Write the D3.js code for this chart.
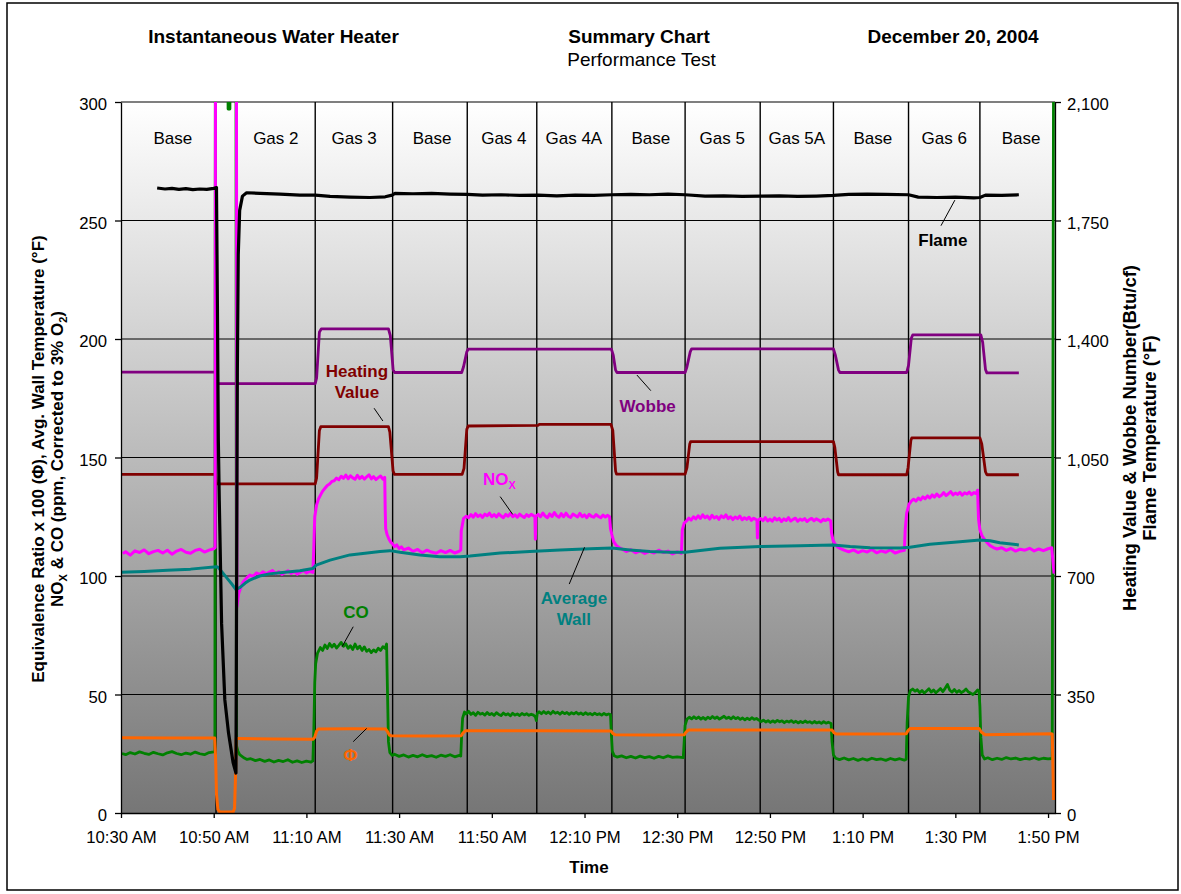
<!DOCTYPE html>
<html lang="en">
<head>
<meta charset="UTF-8">
<title>Summary Chart - Instantaneous Water Heater</title>
<style>
    body { margin: 0; background: #fff; }
    svg text { font-family: "Liberation Sans", Arial, sans-serif; fill: #000; }
</style>
</head>
<body>
<svg id="chart" width="1181" height="894"></svg>

<script src="https://cdn.jsdelivr.net/npm/d3@7"></script>
<script>
    // ---- data (time = minutes after testStart) ----
    let testStart = "10:30"
    let axisEnd = "13:51:30"
    let timeTicks = ["10:30", "10:50", "11:10", "11:30", "11:50", "12:10", "12:30", "12:50", "13:10", "13:30", "13:50"]
    let leftTicks = [0, 50, 100, 150, 200, 250, 300]
    let rightTicks = [0, 350, 700, 1050, 1400, 1750, 2100]

    let phaseNames = ["Base", "Gas 2", "Gas 3", "Base", "Gas 4", "Gas 4A", "Base", "Gas 5", "Gas 5A", "Base", "Gas 6", "Base"]
    let phaseMid = [11.2, 33.4, 50.3, 67.1, 82.6, 97.7, 114.3, 129.7, 145.8, 162.2, 177.6, 194.2]
    let phaseBreaks = [20.5, 41.9, 58.6, 74.7, 89.7, 105.9, 121.7, 137.9, 153.7, 169.9, 185.3]

    // right axis (Btu/cf)
    let wobbe = [[0, 1302], [20.4, 1302], [20.6, 1268], [41.9, 1268], [42.2, 1285], [42.8, 1420], [43.2, 1430], [57.7, 1430], [58.1, 1410], [58.7, 1310], [59.0, 1301], [73.5, 1301], [73.9, 1318], [74.6, 1362], [74.9, 1370], [105.8, 1370], [106.2, 1352], [106.7, 1308], [107.0, 1301], [121.7, 1301], [122.1, 1318], [122.8, 1362], [123.1, 1371], [153.7, 1371], [154.1, 1353], [154.8, 1308], [155.1, 1301], [169.5, 1301], [169.9, 1322], [170.5, 1402], [170.8, 1412], [185.5, 1412], [185.9, 1390], [186.5, 1310], [186.8, 1300], [193.7, 1300]]

    let heatingValue = [[0, 1000], [20.4, 1000], [20.6, 972], [41.9, 972], [42.2, 990], [42.8, 1130], [43.1, 1141], [57.7, 1141], [58.0, 1125], [58.7, 1010], [59.0, 1000], [73.6, 1000], [74.0, 1018], [74.6, 1133], [74.9, 1143], [90, 1145], [90.2, 1148], [105.7, 1148], [106.1, 1130], [106.7, 1010], [106.9, 1001], [121.7, 1001], [122.1, 1020], [122.7, 1090], [122.9, 1097], [153.7, 1097], [154.0, 1080], [154.6, 1008], [154.8, 999], [169.5, 999], [169.8, 1020], [170.4, 1100], [170.6, 1108], [185.3, 1108], [185.7, 1090], [186.5, 1008], [186.8, 999], [193.7, 999]]

    // right axis (deg F)
    let flame = [[7.8, 1846], [9.5, 1843], [11, 1845], [12.5, 1842], [14, 1844], [15.5, 1841], [17, 1843], [18.5, 1842], [20, 1845], [20.6, 1847], [20.8, 1500], [21.0, 1100], [21.2, 924], [21.7, 560], [22.4, 334], [23.2, 236], [24.2, 148], [24.8, 118], [24.95, 700], [25.1, 1300], [25.3, 1650], [25.6, 1780], [26.2, 1822], [27.1, 1832], [30, 1830], [34.3, 1828], [38.6, 1825], [41.9, 1825], [45.1, 1821], [49.4, 1819], [53.7, 1818], [57, 1820], [58.5, 1825], [59.1, 1830], [63, 1829], [67, 1830], [71, 1828], [74.7, 1827], [78, 1825], [82, 1826], [86, 1824], [90, 1825], [94, 1823], [98, 1825], [102, 1824], [105.9, 1826], [110, 1827], [114, 1826], [118, 1828], [121.7, 1826], [126, 1822], [130, 1823], [134, 1821], [138, 1822], [142, 1823], [146, 1821], [150, 1822], [153.7, 1824], [157, 1827], [161, 1828], [165, 1827], [169.9, 1826], [172, 1819], [176, 1818], [180, 1819], [184, 1817], [185.3, 1818], [186.5, 1825], [190, 1824], [193.7, 1826]]

    // left axis (ppm)
    let nox = [[0.4, 109.5], [1, 110.2], [2, 108.8], [3, 110.6], [4, 109.9], [5, 111.0], [6, 109.4], [7, 110.3], [8, 110.8], [9, 109.7], [10, 110.9], [11, 109.2], [12, 110.5], [13, 111.2], [14, 110.0], [15, 109.6], [16, 110.8], [17, 111.3], [18, 110.1], [19, 110.9], [20, 111.5], [20.3, 112], [20.4, 330],
        [24.9, 330], [25.0, 87], [25.4, 92.7], [25.9, 95.5], [26.4, 97.6], [27.1, 99.2], [27.8, 100.4], [28.5, 99.8], [29.2, 101.3], [30, 100.6], [30.6, 101.8], [31.3, 100.9], [32, 101.6], [32.7, 102.3], [33.4, 101.0], [34, 101.8], [34.7, 100.7], [35.4, 101.5], [36, 102.2], [36.7, 101.1], [37.4, 101.9], [38, 100.8], [38.7, 101.6], [39.4, 102.4], [40, 101.3], [40.7, 102.0], [41.4, 101.5],
        [41.6, 112], [41.8, 125], [42.2, 130], [42.6, 132.5], [43, 134], [43.5, 135.8], [44, 137], [44.5, 138.2], [45, 138.8], [45.5, 139.9], [46, 140.2], [46.5, 141.3], [47, 140.6], [47.5, 142.1], [48, 141.2], [48.5, 142.6], [49, 141.0], [49.5, 142.3], [50, 141.4], [50.5, 140.8], [51, 142.5], [51.5, 141.1], [52, 142.0], [52.5, 140.9], [53, 141.8], [53.5, 142.7], [54, 141.0], [54.5, 141.9], [55, 140.7], [55.5, 141.5], [56, 142.2], [56.5, 140.9], [56.9, 141.6],
        [57.0, 128], [57.1, 120], [57.4, 117.5], [57.8, 115.6], [58.2, 114.3], [58.6, 113.5], [59, 112.4], [59.5, 113.1], [60, 111.6], [60.5, 112.3], [61, 111.0], [62, 111.8], [63, 110.4], [64, 111.2], [65, 109.8], [66, 110.9], [67, 110.1], [68, 109.6], [69, 110.7], [70, 109.9], [71, 110.8], [72, 109.7], [73, 110.5], [73.3, 111],
        [73.4, 119], [73.9, 124.3], [74.5, 125.2], [75, 124.6], [75.5, 125.9], [76, 124.8], [76.5, 126.3], [77, 125.1], [77.5, 125.8], [78, 124.7], [78.5, 126.1], [79, 125.4], [79.5, 126.5], [80, 125.0], [80.5, 125.9], [81, 124.9], [81.5, 126.2], [82, 125.3], [82.5, 124.6], [83, 126.0], [83.5, 125.2], [84, 126.4], [84.5, 125.0], [85, 125.8], [85.5, 124.8], [86, 126.1], [86.5, 125.3], [87, 124.7], [87.5, 125.9], [88, 125.1], [88.5, 126.0], [89, 125.4], [89.3, 125], [89.4, 115.5], [89.5, 125.2],
        [90, 126.0], [90.5, 125.0], [91, 126.6], [91.5, 125.3], [92, 124.6], [92.5, 126.2], [93, 125.1], [93.5, 126.8], [94, 125.4], [94.5, 124.8], [95, 126.3], [95.5, 125.0], [96, 126.5], [96.5, 125.2], [97, 124.7], [97.5, 126.1], [98, 125.5], [98.5, 124.9], [99, 126.4], [99.5, 125.0], [100, 125.8], [100.5, 124.6], [101, 126.0], [101.5, 125.2], [102, 124.8], [102.5, 125.9], [103, 125.1], [103.5, 124.6], [104, 125.7], [104.5, 124.9], [105, 125.6], [105.4, 125.0],
        [105.6, 120], [105.9, 117.5], [106.3, 114.5], [106.8, 113], [107.3, 112.2], [108, 111.5], [109, 110.3], [110, 111.1], [111, 109.8], [112, 110.6], [113, 109.5], [114, 110.4], [115, 109.7], [116, 110.9], [117, 109.9], [118, 110.5], [119, 109.3], [120, 110.2], [120.9, 109.6],
        [121.1, 119.5], [121.5, 122.3], [122, 123.2], [122.5, 124.4], [123, 123.6], [123.5, 125.0], [124, 124.1], [124.5, 125.4], [125, 124.3], [125.5, 125.8], [126, 124.6], [126.5, 125.3], [127, 124.0], [127.5, 125.6], [128, 124.5], [128.5, 125.1], [129, 123.9], [129.5, 125.4], [130, 124.6], [130.5, 125.8], [131, 124.2], [131.5, 125.0], [132, 123.8], [132.5, 124.9], [133, 124.2], [133.5, 125.3], [134, 123.7], [134.5, 124.6], [135, 123.9], [135.5, 124.8], [136, 123.5], [136.5, 124.4], [137, 123.8], [137.2, 123.5], [137.3, 116], [137.4, 123.6],
        [138, 124.2], [138.5, 123.4], [139, 124.6], [139.5, 123.2], [140, 124.0], [140.5, 123.1], [141, 124.5], [141.5, 123.6], [142, 124.3], [142.5, 123.0], [143, 124.1], [143.5, 123.4], [144, 124.6], [144.5, 123.2], [145, 123.9], [145.5, 124.4], [146, 123.1], [146.5, 124.0], [147, 123.5], [147.5, 124.2], [148, 123.0], [148.5, 123.8], [149, 124.3], [149.5, 123.3], [150, 124.1], [150.5, 123.6], [151, 122.9], [151.5, 123.9], [152, 123.4], [152.5, 124.0], [153.1, 123.3],
        [153.3, 118], [153.6, 115.2], [154, 113.6], [154.5, 112.4], [155, 111.8], [156, 110.9], [157, 110.2], [158, 111.0], [159, 109.9], [160, 110.7], [161, 110.1], [162, 111.2], [163, 109.8], [164, 110.6], [165, 110.0], [166, 111.1], [167, 109.7], [168, 110.4], [169, 110.8],
        [169.2, 120], [169.5, 126.5], [170, 130.2], [170.5, 131.6], [171, 132.4], [171.5, 131.6], [172, 132.9], [172.5, 132.1], [173, 133.4], [173.5, 132.6], [174, 133.8], [174.5, 132.9], [175, 134.2], [175.5, 133.3], [176, 134.6], [176.5, 133.5], [177, 134.1], [177.5, 135.2], [178, 133.9], [178.5, 134.7], [179, 135.6], [179.5, 134.2], [180, 135.0], [180.5, 134.4], [181, 135.3], [181.5, 134.1], [182, 135.1], [182.5, 134.6], [183, 135.4], [183.5, 134.3], [184, 135.2], [184.5, 134.8], [184.8, 136.2],
        [185, 124], [185.3, 119.5], [185.7, 117.2], [186.2, 115.6], [186.8, 114.2], [187.5, 112.8], [188.2, 112.0], [189, 111.4], [190, 111.9], [191, 110.8], [192, 111.6], [193, 110.5], [194, 111.3], [195, 110.9], [196, 111.7], [197, 110.6], [198, 111.4], [199, 110.7], [200, 111.5], [200.8, 111.9], [201.3, 101]]

    let co = [[0.2, 25.1], [1, 24.6], [2, 25.5], [3, 24.9], [4, 25.8], [5, 25.2], [6, 24.7], [7, 25.6], [8, 25.0], [9, 24.5], [10, 25.4], [11, 25.9], [12, 25.1], [13, 24.6], [14, 25.3], [15, 24.8], [16, 25.7], [17, 25.0], [18, 24.6], [19, 25.5], [20, 25.8], [20.25, 26], [20.35, 330],
        [23.0, 330], [23.1, 297], [23.2, 330], [23.4, 330], [23.5, 297], [23.6, 330], [24.8, 330], [24.9, 28.5], [25.2, 26.2], [25.6, 24.6], [26.1, 23.9], [26.6, 23.2], [27.2, 22.6], [28, 22.9], [29, 22.1], [30, 22.6], [31, 21.8], [32, 22.4], [33, 21.5], [34, 22.2], [35, 21.7], [36, 22.5], [37, 21.4], [38, 22.0], [39, 21.3], [40, 21.9], [41, 21.5], [41.4, 22.0],
        [41.6, 35], [41.8, 55], [42.0, 63], [42.4, 67.5], [43, 69.8], [43.5, 68.6], [44, 70.9], [44.5, 69.4], [45, 71.5], [45.5, 70.0], [46, 71.2], [46.5, 69.6], [47, 70.7], [47.5, 72.0], [48, 70.3], [48.5, 71.4], [49, 69.5], [49.5, 70.6], [50, 69.0], [50.5, 71.3], [51, 69.3], [51.5, 70.4], [52, 68.6], [52.5, 70.1], [53, 68.2], [53.5, 69.0], [54, 67.7], [54.5, 68.8], [55, 68.0], [55.5, 69.5], [56, 68.6], [56.5, 70.2], [57, 69.4], [57.3, 71.3],
        [57.5, 50], [57.7, 30], [58, 25.5], [58.5, 24.3], [59, 24.8], [60, 23.9], [61, 24.5], [62, 23.6], [63, 24.3], [64, 23.7], [65, 24.6], [66, 23.8], [67, 24.2], [68, 23.5], [69, 24.4], [70, 23.9], [71, 24.6], [72, 23.7], [73, 24.3], [73.3, 24.0],
        [73.5, 33], [73.7, 40], [74.1, 42.6], [74.5, 41.8], [75, 42.9], [75.5, 41.6], [76, 42.3], [76.5, 41.2], [77, 42.5], [77.5, 41.7], [78, 42.1], [78.5, 41.3], [79, 42.4], [79.5, 41.5], [80, 42.0], [80.5, 41.2], [81, 42.3], [81.5, 41.6], [82, 41.1], [82.5, 42.2], [83, 41.4], [83.5, 41.9], [84, 41.0], [84.5, 42.1], [85, 41.3], [85.5, 41.8], [86, 41.1], [86.5, 42.0], [87, 41.4], [87.5, 41.9], [88, 41.2], [88.5, 41.7], [89, 41.3], [89.4, 40.5], [89.6, 39], [89.8, 42],
        [90.2, 42.7], [90.7, 41.9], [91.2, 42.8], [91.7, 42.0], [92.2, 42.6], [92.7, 41.8], [93.2, 42.9], [93.7, 42.1], [94.2, 42.5], [94.7, 41.7], [95.2, 42.6], [95.7, 41.9], [96.2, 42.4], [96.7, 41.6], [97.2, 42.3], [97.7, 41.8], [98.2, 42.5], [98.7, 41.7], [99.2, 42.2], [99.7, 41.5], [100.2, 42.3], [100.7, 41.6], [101.2, 42.0], [101.7, 41.4], [102.2, 42.1], [102.7, 41.5], [103.2, 41.9], [103.7, 41.3], [104.2, 42.0], [104.7, 41.4], [105.2, 41.8], [105.6, 41.5],
        [105.8, 33], [106.0, 26], [106.4, 24.2], [107, 23.6], [108, 24.1], [109, 23.3], [110, 23.9], [111, 23.2], [112, 24.0], [113, 23.4], [114, 23.8], [115, 23.1], [116, 23.9], [117, 23.3], [118, 24.1], [119, 23.5], [120, 23.7], [121.3, 23.4],
        [121.5, 30], [121.7, 37], [122.1, 39.6], [122.6, 40.4], [123.1, 39.7], [123.6, 40.6], [124.1, 39.8], [124.6, 40.5], [125.1, 39.6], [125.6, 40.3], [126.1, 39.5], [126.6, 40.4], [127.1, 39.8], [127.6, 40.7], [128.1, 39.9], [128.6, 40.5], [129.1, 39.6], [129.6, 40.2], [130.1, 40.8], [130.6, 39.9], [131.1, 40.4], [131.6, 39.7], [132.1, 40.6], [132.6, 39.8], [133.1, 40.3], [133.6, 39.5], [134.1, 40.1], [134.6, 39.3], [135.1, 40.0], [135.6, 39.4], [136.1, 40.2], [136.6, 39.5], [137.1, 39.9], [137.6, 39.2],
        [138.1, 38.6], [138.6, 39.2], [139.1, 38.4], [139.6, 39.0], [140.1, 38.2], [140.6, 38.9], [141.1, 38.3], [141.6, 39.1], [142.1, 38.5], [142.6, 38.9], [143.1, 38.1], [143.6, 38.8], [144.1, 38.4], [144.6, 39.0], [145.1, 38.2], [145.6, 38.7], [146.1, 38.0], [146.6, 38.6], [147.1, 38.1], [147.6, 38.8], [148.1, 38.2], [148.6, 38.5], [149.1, 37.9], [149.6, 38.6], [150.1, 38.0], [150.6, 38.4], [151.1, 37.8], [151.6, 38.5], [152.1, 37.9], [152.6, 38.3], [153.2, 37.8],
        [153.4, 30], [153.7, 24.5], [154.2, 23.1], [155, 22.5], [156, 23.2], [157, 22.4], [158, 23.0], [159, 22.2], [160, 22.9], [161, 22.3], [162, 23.1], [163, 22.5], [164, 22.8], [165, 22.2], [166, 23.0], [167, 22.4], [168, 22.9], [169, 22.3], [169.4, 22.7],
        [169.6, 38], [169.9, 49], [170.3, 51.6], [170.8, 52.3], [171.3, 51.4], [171.8, 52.0], [172.3, 50.8], [172.8, 51.7], [173.3, 50.6], [173.8, 51.5], [174.3, 52.4], [174.8, 51.0], [175.3, 51.9], [175.8, 50.7], [176.3, 51.6], [176.8, 52.5], [177.3, 51.2], [177.8, 52.6], [178.3, 54.2], [178.8, 51.8], [179.3, 51.0], [179.8, 52.1], [180.3, 50.9], [180.8, 51.7], [181.3, 50.8], [181.8, 51.4], [182.3, 52.3], [182.8, 51.1], [183.3, 50.6], [183.8, 50.0], [184.3, 50.8], [184.8, 51.9], [185.1, 51.5],
        [185.3, 45], [185.5, 32], [185.8, 24.5], [186.3, 22.8], [187, 23.3], [188, 22.5], [189, 23.1], [190, 22.6], [191, 23.4], [192, 22.8], [193, 23.2], [194, 22.5], [195, 23.0], [196, 22.7], [197, 23.3], [198, 22.6], [199, 23.1], [200, 22.8], [200.9, 23.0], [201.2, 330]]

    // left axis (equivalence ratio x 100)
    let phi = [[0.2, 31.7], [10, 31.6], [20.2, 31.6], [20.4, 24], [20.6, 8], [20.9, 1.5], [21.3, 0.4], [24.2, 0.4], [24.5, 2], [24.7, 15], [24.85, 31.4], [25.3, 31.4], [33, 31.2], [41.4, 31.1],
        [41.8, 32], [42.2, 34.6], [42.6, 35.4], [50, 35.5], [57.1, 35.4], [57.5, 34.3], [57.9, 32.9], [58.3, 32.6], [65, 32.5], [73.4, 32.6], [73.8, 33.8], [74.3, 34.7], [90, 34.7], [105.7, 34.6], [106.1, 33.6], [106.6, 33.0], [114, 32.9], [121.5, 33.0], [121.9, 34.1], [122.4, 35.0], [138, 35.0], [153.4, 35.0], [153.8, 33.9], [154.3, 33.3], [162, 33.3], [169.4, 33.4], [169.8, 34.8], [170.3, 35.7], [178, 35.7], [185.1, 35.7], [185.6, 34.2], [186.4, 33.0], [194, 33.2], [200.6, 33.4], [200.9, 33.3], [201.2, 5.5]]

    // left axis (deg F)
    let avgWall = [[0, 101.6], [5, 101.9], [10, 102.4], [15, 102.9], [20.6, 103.9], [21.0, 103.6], [22.0, 101.2], [23.0, 98.8], [24.0, 96.4], [24.8, 94.3], [25.7, 95.2], [26.8, 97], [27.8, 98.3], [29.9, 100], [32, 100.9], [34.3, 101.4], [38.6, 102.2], [41.4, 103.2], [42.1, 104.6], [45.1, 106.7], [49.4, 108.9], [55.9, 110.3], [58, 110.7], [60.2, 110.0], [64.5, 108.9], [68.8, 108.1], [73.1, 108.1], [75.3, 108.4], [81.8, 109.7], [88.2, 110.3], [94.7, 111.0], [101.2, 111.5], [105.9, 111.8], [109.8, 111.0], [114.1, 110.3], [118.4, 110.0], [121.7, 110.0], [129.2, 111.7], [137.9, 112.4], [146.5, 112.8], [153.6, 113.1], [157.3, 112.4], [161.6, 111.9], [168.1, 111.8], [170.2, 112.1], [174.5, 113.4], [181.0, 114.5], [185.3, 115.2], [187.5, 114.9], [189.6, 114.0], [193.7, 113.1]]

    // ---- scales ----
    let svg = d3.select("#chart")
    let plot = { left: 121, right: 1055, top: 102, bottom: 813 }

    let parseTime = d3.timeParse("%Y-%m-%d %H:%M:%S")
    let clock = s => parseTime("2004-12-20 " + (s.length == 5 ? s + ":00" : s))
    let t0 = clock(testStart)
    let at = m => new Date(t0.getTime() + m * 60000)

    let x = d3.scaleTime().domain([t0, clock(axisEnd)]).range([plot.left, plot.right])
    let yL = d3.scaleLinear().domain([0, 300]).range([plot.bottom, plot.top])
    let yR = d3.scaleLinear().domain([0, 2100]).range([plot.bottom, plot.top])

    // outer frame
    svg.append("rect")
        .attr("x", 7).attr("y", 3).attr("width", 1171).attr("height", 887)
        .attr("fill", "#fff").attr("stroke", "#000").attr("stroke-width", 1.5)

    // plot background
    let defs = svg.append("defs")
    let grad = defs.append("linearGradient").attr("id", "bg")
        .attr("x1", 0).attr("y1", 0).attr("x2", 0).attr("y2", 1)
    grad.append("stop").attr("offset", "0%").attr("stop-color", "#ffffff")
    grad.append("stop").attr("offset", "100%").attr("stop-color", "#767676")
    defs.append("clipPath").attr("id", "clip").append("rect")
        .attr("x", plot.left).attr("y", plot.top)
        .attr("width", plot.right - plot.left).attr("height", plot.bottom - plot.top)

    svg.append("rect")
        .attr("x", plot.left).attr("y", plot.top)
        .attr("width", plot.right - plot.left).attr("height", plot.bottom - plot.top)
        .attr("fill", "url(#bg)")

    // gridlines
    svg.append("g").selectAll("line").data(leftTicks.filter(d => d > 0)).join("line")
        .attr("x1", plot.left).attr("x2", plot.right)
        .attr("y1", d => yL(d)).attr("y2", d => yL(d))
        .attr("stroke", "#000").attr("stroke-width", 1.2)

    svg.append("g").selectAll("line").data(phaseBreaks).join("line")
        .attr("x1", d => x(at(d))).attr("x2", d => x(at(d)))
        .attr("y1", plot.top).attr("y2", plot.bottom)
        .attr("stroke", "#000").attr("stroke-width", 1.4)

    svg.append("g").selectAll("text").data(phaseNames).join("text")
        .attr("x", (d, i) => x(at(phaseMid[i])))
        .attr("y", yL(282.3))
        .attr("text-anchor", "middle")
        .style("font-size", "17px")
        .text(d => d)

    // series
    let series = [
        { data: heatingValue, y: yR, color: "#800000", w: 2.8 },
        { data: wobbe, y: yR, color: "#800080", w: 2.8 },
        { data: co, y: yL, color: "#008000", w: 2.8 },
        { data: nox, y: yL, color: "#ff00ff", w: 3 },
        { data: avgWall, y: yL, color: "#008080", w: 3 },
        { data: phi, y: yL, color: "#ff6600", w: 3 },
        { data: flame, y: yR, color: "#000000", w: 3.2 }
    ]

    let lines = svg.append("g").attr("clip-path", "url(#clip)")
    series.forEach(s => {
        let line = d3.line().x(d => x(at(d[0]))).y(d => s.y(d[1]))
        lines.append("path")
            .attr("d", line(s.data))
            .attr("fill", "none")
            .attr("stroke", s.color)
            .attr("stroke-width", s.w)
            .attr("stroke-linejoin", "round")
    })

    // axes
    let tickFont = "16.7px"
    let xAxis = d3.axisBottom(x)
        .tickValues(timeTicks.map(clock))
        .tickFormat(d3.timeFormat("%-I:%M %p"))
        .tickSize(5).tickSizeOuter(0).tickPadding(13)
    let gx = svg.append("g").attr("transform", `translate(0,${plot.bottom})`).call(xAxis)

    let gl = svg.append("g").attr("transform", `translate(${plot.left},0)`)
        .call(d3.axisLeft(yL).tickValues(leftTicks).tickSize(6).tickSizeOuter(0).tickPadding(8))
    let gr = svg.append("g").attr("transform", `translate(${plot.right},0)`)
        .call(d3.axisRight(yR).tickValues(rightTicks).tickFormat(d3.format(",")).tickSize(6).tickSizeOuter(0).tickPadding(6))

    ;[gx, gl, gr].forEach(g => {
        g.selectAll("path, line").attr("stroke", "#000").attr("stroke-width", 1.3)
        g.selectAll("text").style("font-size", tickFont).style("font-family", '"Liberation Sans", Arial, sans-serif').attr("fill", "#000")
    })
    gl.selectAll("text").attr("dy", "0.45em")
    gr.selectAll("text").attr("dy", "0.45em")

    // axis titles
    svg.append("text")
        .attr("x", (plot.left + plot.right) / 2 + 1).attr("y", 873)
        .attr("text-anchor", "middle").style("font-size", "17px").style("font-weight", "bold")
        .text("Time")

    let lt = svg.append("g").attr("transform", "translate(43.5,459) rotate(-90)")
        .style("font-size", "17px").style("font-weight", "bold")
    lt.append("text").attr("text-anchor", "middle").attr("y", 0)
        .text("Equivalence Ratio x 100 (\u03A6), Avg. Wall Temperature (\u00B0F)")
    let lt2 = lt.append("text").attr("text-anchor", "middle").attr("y", 19.5)
    lt2.append("tspan").text("NO")
    lt2.append("tspan").attr("dy", 4).style("font-size", "11px").text("X")
    lt2.append("tspan").attr("dy", -4).text(" & CO (ppm, Corrected to 3% O")
    lt2.append("tspan").attr("dy", 4).style("font-size", "11px").text("2")
    lt2.append("tspan").attr("dy", -4).text(")")

    let rt = svg.append("g").attr("transform", "translate(1136,438) rotate(-90)")
        .style("font-size", "18.5px").style("font-weight", "bold")
    rt.append("text").attr("text-anchor", "middle").attr("y", 0)
        .text("Heating Value & Wobbe Number(Btu/cf)")
    rt.append("text").attr("text-anchor", "middle").attr("y", 19.5)
        .text("Flame Temperature (\u00B0F)")

    // series call-outs (positions in chart units: minutes, left-axis value)
    let notes = [
        { lines: ["Flame"], at: [177.3, 239.2], color: "#000", lead: [[179.9, 258.6], [176.9, 247.8]] },
        { lines: ["Heating", "Value"], at: [50.9, 184.0], color: "#800000", lead: [[54.6, 170.8], [56.5, 165.4]] },
        { lines: ["Wobbe"], at: [113.6, 169.2], color: "#800080", lead: [[111.3, 184.8], [114.3, 178.2]] },
        { lines: ["Average", "Wall"], at: [97.7, 88.2], color: "#008080", lead: [[100.0, 112.1], [96.7, 96.6]] },
        { lines: ["CO"], at: [50.7, 82.2], color: "#008000", lead: [[50.1, 78.6], [47.7, 70.2]] },
        { lines: ["\u03A6"], at: [49.5, 22.1], color: "#ff6600", lead: [[50.1, 30.1], [53.0, 35.7]] }
    ]
    let ann = svg.append("g")
    notes.forEach(n => {
        ann.append("line")
            .attr("x1", x(at(n.lead[0][0]))).attr("y1", yL(n.lead[0][1]))
            .attr("x2", x(at(n.lead[1][0]))).attr("y2", yL(n.lead[1][1]))
            .attr("stroke", "#000").attr("stroke-width", 1)
        let t = ann.append("text")
            .attr("x", x(at(n.at[0]))).attr("y", yL(n.at[1]))
            .attr("text-anchor", "middle")
            .style("font-size", "17px").style("font-weight", "bold")
            .style("fill", n.color)
        n.lines.forEach((l, i) => {
            t.append("tspan").attr("x", x(at(n.at[0]))).attr("dy", i == 0 ? 0 : 21.5).text(l)
        })
    })
    // NOx call-out with subscript
    ann.append("line")
        .attr("x1", x(at(81.8))).attr("y1", yL(133.5))
        .attr("x2", x(at(84.5))).attr("y2", yL(126.0))
        .attr("stroke", "#000").attr("stroke-width", 1)
    let noxText = ann.append("text")
        .attr("x", x(at(78.1))).attr("y", yL(138.4))
        .style("font-size", "17px").style("font-weight", "bold").style("fill", "#ff00ff")
    noxText.append("tspan").text("NO")
    noxText.append("tspan").attr("dy", 4).style("font-size", "11px").text("X")

    // header
    let head = svg.append("g").style("font-size", "19px")
    head.append("text").attr("x", 273.5).attr("y", 43).attr("text-anchor", "middle")
        .style("font-weight", "bold").text("Instantaneous Water Heater")
    head.append("text").attr("x", 639).attr("y", 43).attr("text-anchor", "middle")
        .style("font-weight", "bold").text("Summary Chart")
    head.append("text").attr("x", 641.5).attr("y", 66).attr("text-anchor", "middle")
        .text("Performance Test")
    head.append("text").attr("x", 953).attr("y", 43).attr("text-anchor", "middle")
        .style("font-weight", "bold").text("December 20, 2004")
</script>
</body>
</html>
